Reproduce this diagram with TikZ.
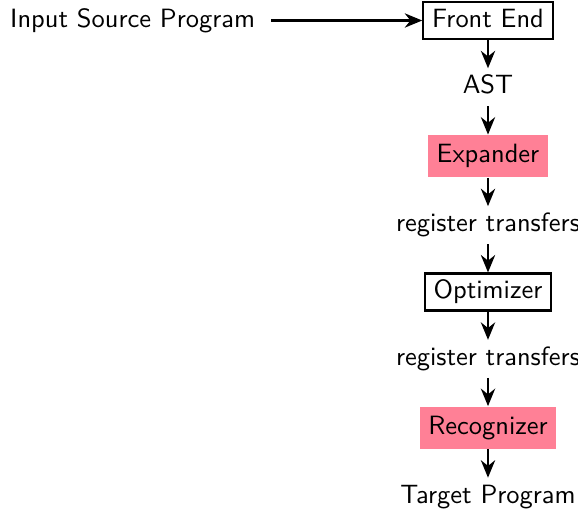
\documentclass[tikz,border=0pt]{standalone}
\usepackage{xcolor}
\usepackage{tikz}
\usetikzlibrary{arrows.meta,positioning}
\definecolor{ink}{HTML}{000000}
\definecolor{recpink}{HTML}{FF8096}
\tikzset{
  stage/.style={text height=7pt,text depth=2pt,inner ysep=2.5pt,font=\sffamily,text=ink},
  boxed/.style={stage,draw=ink,thick},
  shaded/.style={stage,fill=recpink,inner ysep=3.5pt},
  datum/.style={stage},
  arr/.style={-{Stealth[length=6.6pt,width=5.4pt]},thick,color=ink}
}
\begin{document}
\begin{tikzpicture}[x=0.378pt,y=0.378pt,node distance=10.66pt]
  \useasboundingbox (0,0) rectangle (578,-508);
  \node[boxed] (fe) at (488,-20.5) {Front End};
  \node[datum,below=of fe] (ast) {AST};
  \node[shaded,below=of ast] (exp) {Expander};
  \node[datum,below=of exp] (rt1) {register transfers};
  \node[boxed,below=of rt1] (opt) {Optimizer};
  \node[datum,below=of opt] (rt2) {register transfers};
  \node[shaded,below=of rt2] (rec) {Recognizer};
  \node[datum,below=of rec] (tp) {Target Program};
  \node[datum,inner xsep=6pt,left=57pt of fe] (src) {Input Source Program};
  \draw[arr] (src)--(fe);
  \draw[arr] (fe)--(ast);
  \draw[arr] (ast)--(exp);
  \draw[arr] (exp)--(rt1);
  \draw[arr] (rt1)--(opt);
  \draw[arr] (opt)--(rt2);
  \draw[arr] (rt2)--(rec);
  \draw[arr] (rec)--(tp);
\end{tikzpicture}
\end{document}
